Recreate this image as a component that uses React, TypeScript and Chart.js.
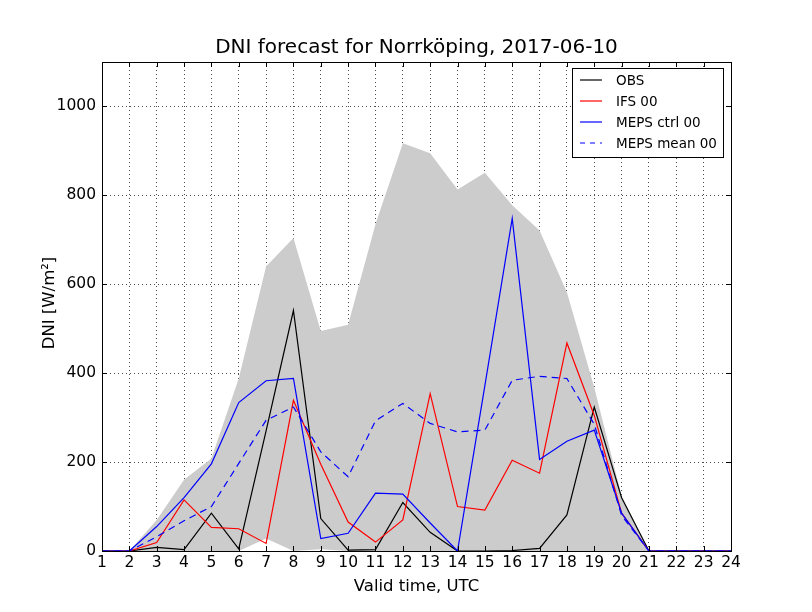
import React, { useEffect, useRef } from "react";
import { Chart, registerables } from "chart.js";

Chart.register(...registerables);

const hours = [1, 2, 3, 4, 5, 6, 7, 8, 9, 10, 11, 12, 13, 14, 15, 16, 17, 18, 19, 20, 21, 22, 23, 24];
const obs = [0, 0, 8, 3, 85, 5, 270, 541, 73, 2, 3, 109, 42, 0, 0, 1, 6, 81, 324, 120, 0, 0, 0, 0];
const ifs00 = [0, 0, 19, 115, 53, 50, 17, 339, 195, 65, 20, 70, 354, 100, 92, 204, 175, 468, 305, 85, 0, 0, 0, 0];
const mepsCtrl = [0, 0, 55, 120, 196, 334, 383, 388, 28, 40, 130, 128, 63, 0, 372, 748, 206, 247, 272, 85, 0, 0, 0, 0];
const mepsMean = [0, 0, 32, 68, 100, 197, 294, 324, 223, 167, 293, 332, 287, 268, 272, 384, 393, 388, 285, 80, 0, 0, 0, 0];
const ensMax = [0, 0, 70, 160, 208, 388, 640, 704, 495, 509, 735, 917, 895, 813, 851, 778, 721, 582, 368, 124, 0, 0, 0, 0];
const ensMin = [0, 0, 0, 0, 0, 0, 28, 0, 4, 0, 0, 0, 0, 0, 0, 0, 0, 0, 0, 0, 0, 0, 0, 0];
const yTicks = [0, 200, 400, 600, 800, 1000];

const title = "DNI forecast for Norrköping, 2017-06-10";
const xTitle = "Valid time, UTC";
const yTitle = "DNI [W/m²]";
const legendItems = [
  { label: "OBS", color: "#000000", dash: [] as number[] },
  { label: "IFS 00", color: "#ff0000", dash: [] as number[] },
  { label: "MEPS ctrl 00", color: "#0000ff", dash: [] as number[] },
  { label: "MEPS mean 00", color: "#0000ff", dash: [5, 5] },
];

const FONT = "'DejaVu Sans', sans-serif";

const pts = (arr: number[]) => arr.map((v, i) => ({ x: hours[i], y: v }));

export default function App() {
  const ref = useRef<HTMLCanvasElement | null>(null);
  useEffect(() => {
    const canvas = ref.current;
    if (!canvas) return;
    const decor = {
      id: "decor",
      afterDraw(chart: any) {
        const { ctx, chartArea: a, scales } = chart;
        ctx.save();
        // frame
        ctx.strokeStyle = "#000";
        ctx.lineWidth = 1;
        ctx.strokeRect(Math.round(a.left) + 0.5, Math.round(a.top) + 0.5, Math.round(a.right - a.left), Math.round(a.bottom - a.top));
        // inward ticks
        ctx.beginPath();
        hours.forEach((h) => {
          const x = Math.round(scales.x.getPixelForValue(h)) + 0.5;
          ctx.moveTo(x, a.bottom);
          ctx.lineTo(x, a.bottom - 5);
          ctx.moveTo(x, a.top);
          ctx.lineTo(x, a.top + 5);
        });
        yTicks.forEach((v) => {
          const y = Math.round(scales.y.getPixelForValue(v)) + 0.5;
          ctx.moveTo(a.left, y);
          ctx.lineTo(a.left + 5, y);
          ctx.moveTo(a.right, y);
          ctx.lineTo(a.right - 5, y);
        });
        ctx.stroke();
        // title
        ctx.fillStyle = "#000";
        ctx.font = `20px ${FONT}`;
        ctx.textAlign = "center";
        ctx.textBaseline = "alphabetic";
        ctx.fillText(title, (a.left + a.right) / 2, 53);
        // x title
        ctx.font = `16.5px ${FONT}`;
        ctx.fillText(xTitle, (a.left + a.right) / 2, 591);
        // y title
        ctx.save();
        ctx.translate(50, 303);
        ctx.rotate(-Math.PI / 2);
        ctx.textBaseline = "middle";
        ctx.fillText(yTitle, 0, 0);
        ctx.restore();
        // legend
        const lx = 572.5, ly = 68.5, lw = 151, lh = 89;
        ctx.fillStyle = "#fff";
        ctx.fillRect(lx, ly, lw, lh);
        ctx.strokeStyle = "#000";
        ctx.lineWidth = 1;
        ctx.strokeRect(lx, ly, lw, lh);
        ctx.font = `13.5px ${FONT}`;
        ctx.textAlign = "left";
        ctx.textBaseline = "middle";
        legendItems.forEach((it, i) => {
          const y = 80 + i * 21;
          ctx.strokeStyle = it.color;
          ctx.lineWidth = 1.2;
          ctx.setLineDash(it.dash);
          ctx.beginPath();
          ctx.moveTo(580, y);
          ctx.lineTo(602, y);
          ctx.stroke();
          ctx.setLineDash([]);
          ctx.fillStyle = "#000";
          ctx.fillText(it.label, 616, y + 1);
        });
        ctx.restore();
      },
    };
    const chart = new Chart(canvas, {
      type: "line",
      data: {
        datasets: [
          {
            label: "min",
            data: pts(ensMin),
            borderWidth: 0,
            pointRadius: 0,
            fill: false,
            order: 20,
          },
          {
            label: "max",
            data: pts(ensMax),
            borderWidth: 0,
            borderColor: "rgba(0,0,0,0)",
            backgroundColor: "#cccccc",
            pointRadius: 0,
            fill: 0,
            order: 19,
          },
          {
            label: "OBS",
            data: pts(obs),
            borderColor: "#000000",
            borderWidth: 1.2,
            pointRadius: 0,
            fill: false,
            order: 4,
          },
          {
            label: "IFS 00",
            data: pts(ifs00),
            borderColor: "#ff0000",
            borderWidth: 1.2,
            pointRadius: 0,
            fill: false,
            order: 3,
          },
          {
            label: "MEPS ctrl 00",
            data: pts(mepsCtrl),
            borderColor: "#0000ff",
            borderWidth: 1.2,
            pointRadius: 0,
            fill: false,
            order: 2,
          },
          {
            label: "MEPS mean 00",
            data: pts(mepsMean),
            borderColor: "#0000ff",
            borderWidth: 1.2,
            borderDash: [7, 5],
            pointRadius: 0,
            fill: false,
            order: 1,
          },
        ],
      },
      options: {
        animation: false,
        responsive: false,
        events: [],
        layout: { padding: { top: 62, right: 81, left: 0, bottom: 0 } },
        plugins: { legend: { display: false }, tooltip: { enabled: false }, title: { display: false } },
        scales: {
          x: {
            type: "linear",
            min: 1,
            max: 24,
            afterFit: (s: any) => {
              s.height = 61;
            },
            ticks: {
              stepSize: 1,
              color: "#000",
              font: { family: FONT, size: 15.5 },
              padding: 3,
              maxRotation: 0,
              autoSkip: false,
              callback: (v: any) => String(v),
            },
            grid: { color: "#000", lineWidth: 0.7, drawTicks: false },
            border: { display: false, dash: [1, 3] },
          },
          y: {
            type: "linear",
            min: 0,
            max: 1100,
            afterFit: (s: any) => {
              s.width = 102;
            },
            ticks: {
              stepSize: 200,
              includeBounds: false,
              color: "#000",
              font: { family: FONT, size: 15.5 },
              padding: 6,
              callback: (v: any) => String(v),
            },
            grid: { color: "#000", lineWidth: 0.7, drawTicks: false },
            border: { display: false, dash: [1, 3] },
          },
        },
      },
      plugins: [decor],
    } as any);
    return () => chart.destroy();
  }, []);
  return (
    <div style={{ position: "absolute", left: 0, top: 0, width: 812, height: 612, background: "#fff" }}>
      <canvas ref={ref} width={812} height={612} />
    </div>
  );
}
